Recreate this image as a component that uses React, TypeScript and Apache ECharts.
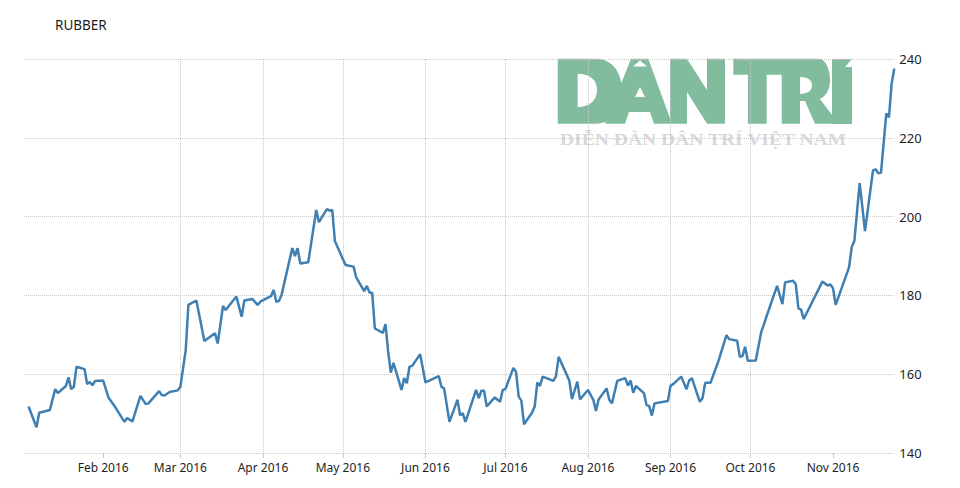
import React, { useEffect, useRef } from "react";
import * as echarts from "echarts";

const title = "RUBBER";
const watermarkCaption = "DIỄN ĐÀN DÂN TRÍ VIỆT NAM";
const monthNames = ["Jan", "Feb", "Mar", "Apr", "May", "Jun", "Jul", "Aug", "Sep", "Oct", "Nov"];
const yearLabel = "2016";
const tickMonths = [1, 2, 3, 4, 5, 6, 7, 8, 9, 10];

const janDays = [4, 7, 8, 12, 14, 15, 18, 19, 20, 21, 22, 25, 26, 27, 28, 29];
const janValues = [151.8, 146.5, 150.2, 150.9, 156.2, 155.2, 157, 159.2, 156.2, 156.8, 161.9, 161.3, 157.5, 158, 157.2, 158.3];
const febDays = [1, 3, 5, 9, 10, 12, 15, 17, 18, 22, 23, 24, 26, 29];
const febValues = [158.4, 154.1, 152.2, 147.9, 148.9, 148, 154.5, 152.4, 152.6, 155.7, 154.7, 154.6, 155.5, 155.9];
const marDays = [1, 3, 4, 7, 10, 14, 15, 17, 18, 22, 24, 25, 28, 30, 31];
const marValues = [156.8, 166.1, 177.6, 178.7, 168.4, 170.4, 167.8, 177.3, 176.3, 179.7, 174.6, 178.7, 179.1, 177.6, 178.4];
const aprDays = [4, 5, 6, 7, 8, 12, 13, 14, 15, 18, 21, 22, 25, 26, 27, 28];
const aprValues = [179.8, 181.4, 178.4, 178.6, 180.2, 192, 190, 192, 188.1, 188.4, 201.7, 198.6, 201.9, 201.5, 201.7, 193.8];
const mayDays = [2, 5, 6, 9, 10, 11, 12, 13, 16, 17, 18, 19, 20, 23, 24, 25, 26, 27, 30];
const mayValues = [187.7, 187.3, 184.6, 181.1, 182.4, 180.7, 180.7, 171.6, 170.5, 172.7, 165.7, 160.4, 162.9, 156, 159, 157.7, 161.9, 162.1, 165.1];
const junDays = [1, 6, 7, 8, 10, 13, 14, 15, 16, 20, 21, 22, 23, 24, 27, 29, 30];
const junValues = [157.9, 159.5, 156.8, 156.4, 147.9, 153.5, 149.6, 150.1, 147.9, 156, 153.9, 155.8, 155.8, 151.8, 154.1, 153, 156];
const julDays = [1, 4, 5, 6, 7, 8, 11, 12, 13, 14, 15, 19, 20, 21, 25, 26, 28, 29];
const julValues = [156.2, 161.6, 160.6, 154.3, 153.3, 147.3, 150.2, 151.8, 157.9, 157, 159.4, 158.3, 159.5, 164.4, 158.4, 153.7, 158.1, 153.6];
const augDays = [1, 3, 4, 5, 8, 9, 10, 12, 15, 16, 17, 18, 19, 22, 23, 24, 25, 26, 31];
const augValues = [156, 153.5, 150.7, 153.6, 156.4, 153.5, 152.6, 158.3, 159, 157.1, 158.4, 155.3, 157, 155.2, 152.2, 151.9, 149.5, 152.6, 153.2];
const sepDays = [1, 2, 5, 7, 8, 9, 12, 13, 14, 16, 19, 22, 23, 26, 27, 28, 29, 30];
const sepValues = [157.1, 157.5, 159.4, 156.2, 158.4, 159, 153, 153.9, 157.8, 157.8, 163.4, 169.9, 168.9, 168.5, 164.4, 164.6, 167, 163.4];
const octDays = [3, 5, 6, 7, 11, 13, 14, 17, 18, 19, 20, 21, 28, 30, 31];
const octValues = [163.5, 170.6, 172.5, 174.6, 182.4, 177.8, 183.3, 183.7, 182.9, 176.7, 176.4, 174, 183.5, 182.5, 182.8];
const novDays = [1, 2, 7, 8, 9, 11, 13, 16, 17, 18, 19, 21, 22, 23, 24];
const novValues = [181.8, 177.6, 187.1, 192.2, 193.8, 208.5, 196.3, 211.7, 212, 211, 211.1, 226.2, 225.2, 233.8, 237.6];

const allDays = [janDays, febDays, marDays, aprDays, mayDays, junDays, julDays, augDays, sepDays, octDays, novDays];
const allValues = [janValues, febValues, marValues, aprValues, mayValues, junValues, julValues, augValues, sepValues, octValues, novValues];

const seriesData: [number, number][] = allDays.flatMap((days, m) =>
  days.map((d, i) => [new Date(2016, m, d).getTime(), allValues[m][i]] as [number, number])
);

const logoPath =
  // D
  "M557.7 58.7 L596 58.7 C612 58.7 622 72 622 91 C622 110 612 123.7 596 123.7 L557.7 123.7 Z " +
  "M577.7 73.7 L577.7 107 C590 107 597 100 597 90 C597 80 590 73.7 577.7 73.7 Z " +
  // A with the circumflex cut out
  "M631 58.7 L648.3 58.7 L672 123.7 L654 123.7 L650 112 L629 112 L625 123.7 L605 123.7 Z " +
  "M640 60.5 L633 66.5 L647 66.5 Z M640 87 L635 97 L645 97 Z " +
  // N
  "M670 58.7 L687 58.7 L707 90 L707 58.7 L725 58.7 L725 123.7 L707 123.7 L687 92 L687 123.7 L670 123.7 Z " +
  // T and R
  "M733.3 58.7 L818 58.7 C826 58.7 830 70 830 80 C830 90 826 96 820 99 L832 115 L832 123.7 L815 123.7 L805 101 L800 101 L800 123.7 L781.7 123.7 L781.7 74.7 L766.7 74.7 L766.7 123.7 L748 123.7 L748 74.7 L733.3 74.7 Z " +
  "M800 77 L800 94 C808 94 812 90 812 85.5 C812 80 808 77 800 77 Z " +
  // I with its acute accent
  "M832 59 L852 59 L845 67 L852 67 L852 124 L832 124 Z";

echarts.graphic.registerShape("danTriLogo", echarts.graphic.extendPath(logoPath as any, {}) as any);

export default function App() {
  const ref = useRef<HTMLDivElement>(null);
  useEffect(() => {
    if (!ref.current) return;
    const chart = echarts.init(ref.current, undefined, { renderer: "svg" });
    const lineColor = "#3F7FB2";
    const gridColor = "#C8C8C8";
    const tickValues = tickMonths.map((m) => new Date(2016, m, 1).getTime());
    chart.setOption({
      animation: false,
      backgroundColor: "#FFFFFF",
      title: {
        text: title,
        left: 55,
        top: 18,
        padding: 0,
        textStyle: { fontFamily: "Noto Sans", fontSize: 13.5, fontWeight: "normal", color: "#1E1E1E" },
      },
      graphic: {
        elements: [
          { type: "danTriLogo", x: 0, y: 0, silent: true, style: { fill: "#82BC9F" } },
          {
            type: "text",
            x: 560,
            y: 140,
            scaleX: 1.222,
            silent: true,
            style: {
              text: watermarkCaption,
              fill: "#D8D8D8",
              font: "bold 16px 'Liberation Serif'",
              align: "left",
              verticalAlign: "middle",
            },
          },
        ],
      } as any,
      grid: { left: 24, right: 65.7, top: 59, bottom: 35, containLabel: false },
      xAxis: {
        type: "value",
        scale: true,
        z: 3,
        min: new Date(2016, 0, 2, 7).getTime(),
        max: new Date(2016, 10, 24).getTime(),
        axisLine: { show: false },
        axisTick: { show: true, length: 5, customValues: tickValues, lineStyle: { color: gridColor } },
        axisLabel: {
          customValues: tickValues,
          margin: 8,
          fontFamily: "Noto Sans",
          fontSize: 12,
          color: "#1E1E1E",
          hideOverlap: false,
          showMinLabel: true,
          showMaxLabel: true,
          formatter: (v: number) => `${monthNames[new Date(v).getMonth()]} ${yearLabel}`,
        },
        splitLine: { show: true, showMinLine: false, showMaxLine: false, lineStyle: { color: gridColor, type: "dotted", width: 1 } },
        minorTick: { show: false },
      },
      yAxis: {
        type: "value",
        position: "right",
        z: 3,
        min: 140,
        max: 240,
        interval: 20,
        axisLine: { show: false },
        axisTick: { show: false },
        axisLabel: { margin: 5, fontFamily: "Noto Sans", fontSize: 13, color: "#1E1E1E" },
        splitLine: { show: true, lineStyle: { color: gridColor, type: "dotted", width: 1 } },
      },
      series: [
        {
          type: "line",
          data: seriesData,
          showSymbol: false,
          smooth: false,
          lineStyle: { color: lineColor, width: 2.5 },
          itemStyle: { color: lineColor },
          z: 5,
        },
      ],
    });
    return () => chart.dispose();
  }, []);
  return <div ref={ref} style={{ position: "fixed", left: 0, top: 0, width: 960, height: 488 }} />;
}
